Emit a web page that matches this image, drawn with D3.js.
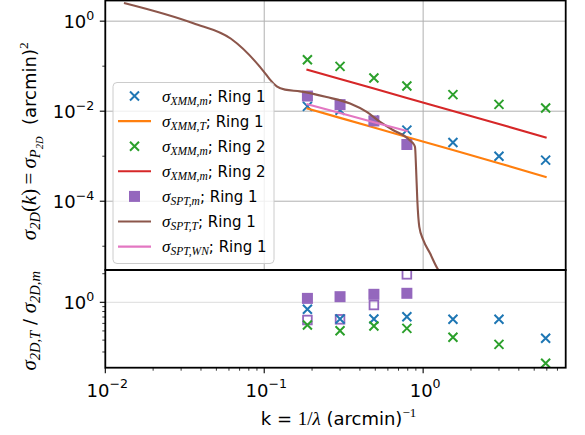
<!DOCTYPE html>
<html><head><meta charset="utf-8">
<script src="https://cdn.jsdelivr.net/npm/d3@7"></script>
<style>body{margin:0;background:#fff}</style>
</head><body>
<svg id="chart" width="585" height="435"></svg>
<script>
// ---- data ----
const kVals = [0.187, 0.3, 0.49, 0.79, 1.54, 3.0, 5.9];
const xmmRing1Meas = [0.0128, 0.0105, 0.0063, 0.0038, 0.00201, 0.00100, 0.00082];
const xmmRing1Theory = [0.0114, 0.0071, 0.00432, 0.00267, 0.00137, 0.00070, 0.000348];
const xmmRing2Meas = [0.139, 0.099, 0.0545, 0.0362, 0.0233, 0.0142, 0.0118];
const xmmRing2Theory = [0.0836, 0.052, 0.0318, 0.0197, 0.0101, 0.0052, 0.0026];

const sptK = [0.187, 0.3, 0.49, 0.79];
const sptMeas = [0.0217, 0.014, 0.00607, 0.00182];
const sptWhiteNoise = [0.0142, 0.00908, 0.0057, 0.00364];

const sptTheoryK = [0.0133, 0.0358, 0.0618, 0.1038, 0.1088, 0.1199, 0.1352, 0.168, 0.247, 0.347, 0.4416,
  0.536, 0.649, 0.769, 0.847, 0.867, 0.889, 0.902, 0.919, 0.946, 1.003, 1.105, 1.228, 1.3];
const sptTheory = [2.51, 0.90, 0.407, 0.0625, 0.0502, 0.0357, 0.0301, 0.0276, 0.0206, 0.01475, 0.0096,
  0.00576, 0.00377, 0.00277, 0.00207, 0.00191, 0.00161, 0.00058, 1.06e-4, 2.7e-5, 1.37e-5, 6.96e-6, 3.24e-6, 2.4e-6];

// ratios sigma_T / sigma_m
const ratioXmmRing1 = [0.844, 0.667, 0.667, 0.705, 0.662, 0.662, 0.418];
const ratioXmmRing2 = [0.577, 0.502, 0.563, 0.532, 0.428, 0.361, 0.228];
const ratioSptTheory = [1.10, 1.146, 1.214, 1.244];
const ratioSptWhiteNoise = [0.651, 0.662, 0.937, 1.97];

const xTicks = [0.01, 0.1, 1];
const xTickExp = ["\u22122", "\u22121", "0"];
const yTopTicks = [1, 0.01, 0.0001];
const yTopTickExp = ["0", "\u22122", "\u22124"];
const yTopMinor = [0.1, 0.001, 0.00001];
const yBotTicks = [1];
const yBotTickExp = ["0"];

const C = {blue:"#1f77b4", orange:"#ff7f0e", green:"#2ca02c", red:"#d62728",
           purple:"#9467bd", brown:"#8c564b", pink:"#e377c2"};
const SANS = "DejaVu Sans", SERIF = "Liberation Serif";

// ---- layout ----
const svg = d3.select("#chart");
const L = 105.3, R = 565.7, T = 0.5, MID = 270, B = 367.7;

const x = d3.scaleLog().domain([0.01, 7.89]).range([L, R]);
const yTop = d3.scaleLog().domain([2.965e-6, 2.877]).range([MID, T]);
const yBot = d3.scaleLog().domain([0.205, 2.188]).range([B, MID]);

const defs = svg.append("defs");
defs.append("clipPath").attr("id","clipTop").append("rect")
  .attr("x", L).attr("y", T).attr("width", R-L).attr("height", MID-T);
defs.append("clipPath").attr("id","clipBot").append("rect")
  .attr("x", L).attr("y", MID).attr("width", R-L).attr("height", B-MID);

// rich text: parts = [{t, f, s, i, sh}] sh = baseline shift in px (negative = up)
function rich(sel, parts, anchor) {
  const t = sel.append("text").attr("text-anchor", anchor || "start").attr("fill", "#000");
  let prev = 0;
  parts.forEach(p => {
    const sh = p.sh || 0;
    t.append("tspan").text(p.t)
      .attr("dy", sh - prev)
      .attr("font-family", p.f || SANS)
      .attr("font-size", p.s)
      .attr("font-style", p.i ? "italic" : "normal");
    prev = sh;
  });
  return t;
}

// ---- top panel ----
const gTop = svg.append("g");
// grid
gTop.selectAll(".vg").data(xTicks).join("line")
  .attr("x1", d => x(d)).attr("x2", d => x(d)).attr("y1", T).attr("y2", MID)
  .attr("stroke", "#b0b0b0").attr("stroke-width", 1);
gTop.selectAll(".hg").data(yTopTicks).join("line")
  .attr("x1", L).attr("x2", R).attr("y1", d => yTop(d)).attr("y2", d => yTop(d))
  .attr("stroke", "#b0b0b0").attr("stroke-width", 1);

const plotTop = gTop.append("g").attr("clip-path", "url(#clipTop)");
const line = (xs, ys, yS) => d3.line().x((d,i) => x(xs[i])).y((d,i) => yS(ys[i]))(ys);
const xMark = h => `M${-h},${-h}L${h},${h}M${-h},${h}L${h},${-h}`;

function crosses(g, xs, ys, yS, col) {
  g.append("g").selectAll("path").data(ys).join("path")
    .attr("d", xMark(4.5))
    .attr("transform", (d,i) => `translate(${x(xs[i])},${yS(d)})`)
    .attr("stroke", col).attr("stroke-width", 2).attr("fill", "none");
}
function squares(g, xs, ys, yS, col, s, open) {
  g.append("g").selectAll("rect").data(ys).join("rect")
    .attr("x", (d,i) => x(xs[i]) - s/2 + (open ? 0.9 : 0))
    .attr("y", d => yS(d) - s/2 + (open ? 0.9 : 0))
    .attr("width", open ? s - 1.8 : s).attr("height", open ? s - 1.8 : s)
    .attr("fill", open ? "none" : col)
    .attr("stroke", open ? col : "none").attr("stroke-width", open ? 1.8 : 0);
}
function path(g, d, col) {
  g.append("path").attr("d", d).attr("fill", "none").attr("stroke", col)
    .attr("stroke-width", 2.1).attr("stroke-linejoin", "round").attr("stroke-linecap", "square");
}

crosses(plotTop, kVals, xmmRing1Meas, yTop, C.blue);
path(plotTop, line(kVals, xmmRing1Theory, yTop), C.orange);
crosses(plotTop, kVals, xmmRing2Meas, yTop, C.green);
path(plotTop, line(kVals, xmmRing2Theory, yTop), C.red);
squares(plotTop, sptK, sptMeas, yTop, C.purple, 11);
path(plotTop, d3.line().curve(d3.curveMonotoneX)
  .x((d,i) => x(sptTheoryK[i])).y(d => yTop(d))(sptTheory), C.brown);
path(plotTop, line(sptK, sptWhiteNoise, yTop), C.pink);

// left ticks + labels
gTop.selectAll(".ytk").data(yTopTicks).join("line")
  .attr("x1", L - 5.5).attr("x2", L).attr("y1", d => yTop(d)).attr("y2", d => yTop(d))
  .attr("stroke", "#000").attr("stroke-width", 1.1);
gTop.selectAll(".ytm").data(yTopMinor).join("line")
  .attr("x1", L - 3).attr("x2", L).attr("y1", d => yTop(d)).attr("y2", d => yTop(d))
  .attr("stroke", "#000").attr("stroke-width", 0.8);
yTopTicks.forEach((v, i) => {
  rich(svg.append("g").attr("transform", `translate(${L - 11},${yTop(v) + 7})`),
    [{t:"10", s:18}, {t:yTopTickExp[i], s:12.6, sh:-8.5}], "end");
});

// ---- legend ----
const lg = svg.append("g");
lg.append("rect").attr("x", 113).attr("y", 82.5).attr("width", 161).attr("height", 181)
  .attr("rx", 4).attr("fill", "#fff").attr("fill-opacity", 0.8)
  .attr("stroke", "#cccccc").attr("stroke-width", 1);
const legendItems = [
  {kind:"x", col:C.blue, sub:"XMM,m", ring:"Ring 1"},
  {kind:"l", col:C.orange, sub:"XMM,T", ring:"Ring 1"},
  {kind:"x", col:C.green, sub:"XMM,m", ring:"Ring 2"},
  {kind:"l", col:C.red, sub:"XMM,m", ring:"Ring 2"},
  {kind:"s", col:C.purple, sub:"SPT,m", ring:"Ring 1"},
  {kind:"l", col:C.brown, sub:"SPT,T", ring:"Ring 1"},
  {kind:"l", col:C.pink, sub:"SPT,WN", ring:"Ring 1"}
];
legendItems.forEach((it, i) => {
  const cy = 96 + i * 25.1;
  const g = lg.append("g");
  if (it.kind === "x") g.append("path").attr("d", xMark(4.5)).attr("transform", `translate(134.5,${cy})`)
    .attr("stroke", it.col).attr("stroke-width", 2).attr("fill", "none");
  else if (it.kind === "s") g.append("rect").attr("x", 129).attr("y", cy - 5.5).attr("width", 11).attr("height", 11).attr("fill", it.col);
  else g.append("line").attr("x1", 118).attr("x2", 151).attr("y1", cy).attr("y2", cy)
    .attr("stroke", it.col).attr("stroke-width", 2.1);
  rich(g.append("g").attr("transform", `translate(162,${cy + 5.5})`), [
    {t:"\u03c3", f:SERIF, s:17, i:true},
    {t:it.sub, f:SERIF, s:11.5, i:true, sh:3},
    {t:"; " + it.ring, s:15}
  ]);
});

// ---- bottom panel ----
const gBot = svg.append("g");
gBot.selectAll(".hg").data(yBotTicks).join("line")
  .attr("x1", L).attr("x2", R).attr("y1", d => yBot(d)).attr("y2", d => yBot(d))
  .attr("stroke", "#dcdcdc").attr("stroke-width", 1);
const plotBot = gBot.append("g").attr("clip-path", "url(#clipBot)");
squares(plotBot, sptK, ratioSptTheory, yBot, C.purple, 11);
squares(plotBot, sptK, ratioSptWhiteNoise, yBot, C.purple, 10.5, true);
crosses(plotBot, kVals, ratioXmmRing1, yBot, C.blue);
crosses(plotBot, kVals, ratioXmmRing2, yBot, C.green);

// y ticks bottom
const yBotMinor = [2, 0.9, 0.8, 0.7, 0.6, 0.5, 0.4, 0.3];
gBot.selectAll(".ytk").data(yBotTicks).join("line")
  .attr("x1", L - 5.5).attr("x2", L).attr("y1", d => yBot(d)).attr("y2", d => yBot(d))
  .attr("stroke", "#000").attr("stroke-width", 1.1);
gBot.selectAll(".ytm").data(yBotMinor).join("line")
  .attr("x1", L - 3).attr("x2", L).attr("y1", d => yBot(d)).attr("y2", d => yBot(d))
  .attr("stroke", "#000").attr("stroke-width", 0.8);
yBotTicks.forEach((v, i) => {
  rich(svg.append("g").attr("transform", `translate(${L - 11},${yBot(v) + 7})`),
    [{t:"10", s:18}, {t:yBotTickExp[i], s:12.6, sh:-8.5}], "end");
});

// x ticks
const xMinor = [];
[0.01, 0.1, 1].forEach(dec => { for (let m = 2; m <= 9; m++) { const v = m * dec; if (v <= 7.89) xMinor.push(v); } });
gBot.selectAll(".xtk").data(xTicks).join("line")
  .attr("x1", d => x(d)).attr("x2", d => x(d)).attr("y1", B).attr("y2", B + 5.5)
  .attr("stroke", "#000").attr("stroke-width", 1.1);
gBot.selectAll(".xtm").data(xMinor).join("line")
  .attr("x1", d => x(d)).attr("x2", d => x(d)).attr("y1", B).attr("y2", B + 3)
  .attr("stroke", "#000").attr("stroke-width", 0.8);
xTicks.forEach((v, i) => {
  rich(svg.append("g").attr("transform", `translate(${x(v) + 2},397)`),
    [{t:"10", s:18}, {t:xTickExp[i], s:12.6, sh:-9}], "middle");
});

// spines
svg.append("rect").attr("x", L).attr("y", T).attr("width", R-L).attr("height", MID-T)
  .attr("fill", "none").attr("stroke", "#000").attr("stroke-width", 1.8);
svg.append("rect").attr("x", L).attr("y", MID).attr("width", R-L).attr("height", B-MID)
  .attr("fill", "none").attr("stroke", "#000").attr("stroke-width", 1.8);

// ---- axis labels ----
rich(svg.append("g").attr("transform", `translate(36,${(T+MID)/2 + 6}) rotate(-90)`), [
  {t:"\u03c3", f:SERIF, s:21, i:true},
  {t:"2D", f:SERIF, s:14.5, i:true, sh:4},
  {t:"(", f:SERIF, s:21}, {t:"k", f:SERIF, s:21, i:true}, {t:")", f:SERIF, s:21},
  {t:"\u2009=\u2009", f:SERIF, s:21},
  {t:"\u03c3", f:SERIF, s:21, i:true},
  {t:"P", f:SERIF, s:14.5, i:true, sh:4},
  {t:"2D", f:SERIF, s:10.5, i:true, sh:7},
  {t:"  (arcmin)", s:18},
  {t:"2", f:SERIF, s:13.5, sh:-8.5}
], "middle").attr("xml:space", "preserve");

rich(svg.append("g").attr("transform", `translate(36,${(MID+B)/2 + 2}) rotate(-90)`), [
  {t:"\u03c3", f:SERIF, s:21, i:true},
  {t:"2D,T", f:SERIF, s:14.5, i:true, sh:4},
  {t:" / ", s:18},
  {t:"\u03c3", f:SERIF, s:21, i:true},
  {t:"2D,m", f:SERIF, s:14.5, i:true, sh:4}
], "middle").attr("xml:space", "preserve");

rich(svg.append("g").attr("transform", `translate(${(L+R)/2 + 3},425)`), [
  {t:"k = ", s:18},
  {t:"1/", f:SERIF, s:19},
  {t:"\u03bb", f:SERIF, s:19, i:true},
  {t:" (arcmin)", s:18},
  {t:"\u22121", f:SERIF, s:13, sh:-8.5}
], "middle").attr("xml:space", "preserve");
</script></body></html>
